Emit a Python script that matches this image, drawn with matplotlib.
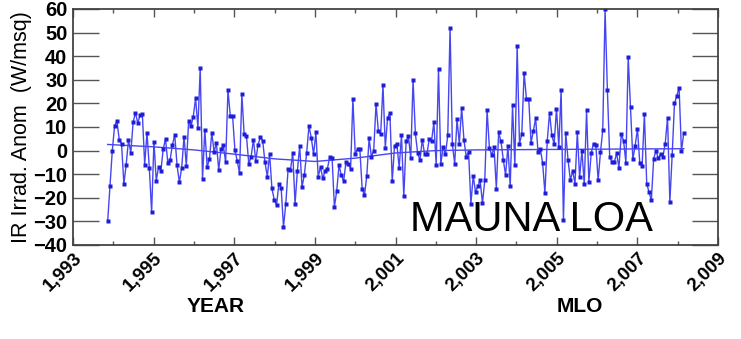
import numpy as np
import matplotlib as mpl
mpl.use("Agg")
import matplotlib.pyplot as plt
from matplotlib.ticker import FixedLocator, FuncFormatter
from matplotlib.transforms import ScaledTranslation

plt.rcParams['font.family'] = ['Liberation Sans', 'DejaVu Sans']

# ~~~~~~~~ data ~~~~~~~~
t_start, t_end = 1993.86, 2008.15   # first / last sample (decimal year)
irr = [
    -30, -14.8, 0, 10.6, 12.4, 4.7, 2.8, -14.1, -6, 4.5, -1, 12, 16, 11.8, 14.9, 15.4,
    -5.9, 7.6, -7.3, -26.2, 3.8, -12.8, -6.9, -8.6, 0.6, 5, -5.2, -3.8, 2.5, 6.6, -6.3,
    -13.4, -7.3, 5.9, -6.5, 12.4, 10.4, 14.4, 22.2, 9.7, 35,
    -12, 8.9, -7, -3.6, 7.6, -0.5, 3.2, -8.2, 0.6, 2.2, -5, 25.7, 14.7, 14.7, 0.2, -4.3, -9.6,
    23.9, 6.9, 6.2, -5.7, -2.6, 4.7, -4.3, 2.5, 5.6, 4.2, -5, -11, -1.5, -16, -20.8, -23.2,
    -14, -16, -32.4, -22.5, -7.6, -8.3, -0.9, -22.5, -8.6, 2, -15.4, -10.4, -1.2, 10.4, 5.5,
    -1.6, 7.7, -11, -7, -11.8, -8.6, -7.6, -2.6,
    -3.0, -23.9, -17.1, -6.2, -10.4, -13, -4.8, -5.5, -7.8, 21.9, -1.5, 0.6, 0.6, -16.1,
    -18.9, -10.8, 5.2, -2.6, 0, 19.8, 8.4, 6.9, 27.7, 1.2, 14, 15.8, -13, 2, 3, -7.2, 6.6,
    -19.4, 4, 6.2, -3.3, 30, 7.3, -1.2, -4, 4.7, -1.6, -1.6, 5, 4, 12, -5.9, 34.5, -5.7,
    1.6, -1.5, 6.4, 52, 2.6,
    -5.5, 13.3, 3, 18.2, 4.5, -2.6, -0.6, -22.5, -10.7, -17.5, -15.1, -12.6, -22.3, -12.6,
    17, 1.2, -1.9, 1.5, -16.1, 7.7, 3.9, -3.8, -10.4, 1.9, -15.1, 19.2, -6.2, 44.5, 3, 6.9,
    33, 22, 21.9, 3.3, 8.3, 13.7, -0.5, 0.8, -5.2, -18, 4, 16.1, 6.4, 2.8, 17.8, 1.5, 25.7,
    -29.6, 7.6, -4, -12.6, -8.6, -14, 7.8, -11.2, 0, -14.3, 17, -13.3,
    -1.2, 3, 2.5, -12.6, -0.8, 8.7, 59.8, 25.7, -2.6, -4.8, -4.8, -1.2, -7.2, 6.9, 4.2,
    -5.2, 39.7, 18.4, -3.6, 2, 9.3, -5.2, -6.6, 15.5, -14, -17.5, -21, -3.5, 0, -3.3,
    -1.5, -2.6, 3, 14, -21.8, -1.9, 20, 23.2, 26.7, -0.2, 7.3,
]
trend_yr = [1993.86, 1995, 1996, 1997, 1998, 1999, 2000, 2001, 2002, 2003, 2005, 2007, 2008.15]
trend_val = [2.6, 1.6, 0.3, -1.5, -3.5, -4.6, -3.2, -1.0, 0.0, 0.3, 0.5, 0.7, 0.8]
year_ticks = [1993, 1995, 1997, 1999, 2001, 2003, 2005, 2007, 2009]
year_minor = [1994, 1996, 1998, 2000, 2002, 2004, 2006, 2008]
y_ticks = [-40, -30, -20, -10, 0, 10, 20, 30, 40, 50, 60]
# ~~~~~~~~~~~~~~~~~~~~~~~~~~~~~~~~~~~~~~~~~~~~

yr = np.linspace(t_start, t_end, len(irr))

fig = plt.figure(figsize=(7.41, 3.39), dpi=100)
ax = fig.add_axes([73/741, 1-245/339, 645/741, 236/339])

ax.plot(yr, irr, '-', color='#4646f2', lw=1.0, zorder=2)
ax.plot(yr, irr, 's', color='#1e1ed8', ms=2.4, mec='none', zorder=3)
ax.plot(trend_yr, trend_val, '-', color='#4646f2', lw=1.0, zorder=2)

ax.set_xlim(1993, 2009)
ax.set_ylim(-40, 60)
ax.xaxis.set_major_locator(FixedLocator(year_ticks))
ax.xaxis.set_minor_locator(FixedLocator(year_minor))
ax.yaxis.set_major_locator(FixedLocator(y_ticks))
ax.xaxis.set_major_formatter(FuncFormatter(lambda v, p: '{:,.0f}'.format(v)))

ax.tick_params(axis='y', direction='in', length=19, width=1, color='#555555',
               left=True, right=True, labelsize=14.5, pad=4)
ax.tick_params(axis='x', which='major', direction='in', length=6, width=1, color='#555555',
               top=True, bottom=True, labelsize=13.5, pad=3)
ax.tick_params(axis='x', which='minor', direction='in', length=3, width=1, color='#555555',
               top=True, bottom=True)
for lab in ax.get_yticklabels():
    lab.set_fontweight('bold')
off = ScaledTranslation(9/72, 0, fig.dpi_scale_trans)
for lab in ax.get_xticklabels():
    lab.set_fontweight('bold')
    lab.set_rotation(45)
    lab.set_ha('right')
    lab.set_va('top')
    lab.set_transform(lab.get_transform() + off)

for s in ax.spines.values():
    s.set_color('#444444')
    s.set_linewidth(1.3)

fig.text(22/741, 1-127/339, 'IR Irrad. Anom  (W/msq)', rotation=90,
         ha='center', va='center', fontsize=15.5)
fig.text(216/741, 1-307/339, 'YEAR', ha='center', va='center', fontsize=15, fontweight='bold')
fig.text(580/741, 1-307/339, 'MLO', ha='center', va='center', fontsize=15, fontweight='bold')
fig.text(410/741, 1-231/339, 'MAUNA LOA', ha='left', va='baseline', fontsize=30)

fig.savefig('out.png', dpi=100)
